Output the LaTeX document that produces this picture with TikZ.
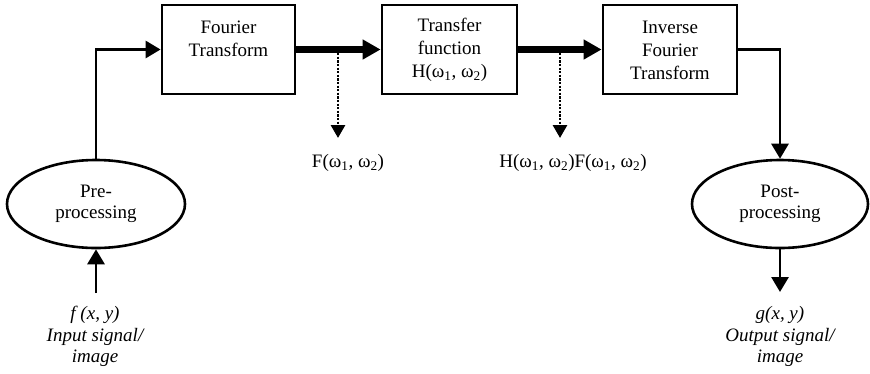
\documentclass[tikz,border=0pt]{standalone}
\usepackage{fontspec}
\setmainfont{Liberation Serif}
\usetikzlibrary{arrows.meta,shapes.geometric}
\begin{document}
\begin{tikzpicture}[x=1pt,y=-1pt,
  boxnode/.style={draw,line width=2.8pt,minimum height=89pt,inner sep=0pt},
  ellnode/.style={draw,ellipse,line width=2.6pt,minimum height=88pt,inner sep=0pt,
     align=center,font=\fontsize{19}{21.5}\selectfont},
  txt/.style={align=center,inner sep=0pt,font=\fontsize{19}{23}\selectfont},
  itxt/.style={align=center,inner sep=0pt,font=\fontsize{19}{21.5}\selectfont\itshape},
  thin/.style={line width=2.8pt,-{Triangle[length=15pt,width=17pt]}},
  thick/.style={line width=7pt,-{Triangle[length=18pt,width=19pt]}},
  dots/.style={line width=2.8pt,dash pattern=on 2.2pt off 1.4pt,-{Triangle[length=13pt,width=14pt]}}
]
\path[use as bounding box] (0,0) rectangle (870,373);

% boxes
\node[boxnode,minimum width=133pt] (ft) at (228.5,49.5) {};
\node[boxnode,minimum width=135pt] (tf) at (449.5,49.5) {};
\node[boxnode,minimum width=134pt] (ift) at (670,49.5) {};
\node[txt] (ftt) at (228.5,38.5) {Fourier\\Transform};
\node[txt] (tft) at (449.5,50) {Transfer\\function\\H(ω\textsubscript{1}, ω\textsubscript{2})};
\node[txt] (iftt) at (670,50) {Inverse\\Fourier\\Transform};

% ellipses
\node[ellnode,minimum width=178pt] (pre) at (96,204) {Pre-\\processing};
\node[ellnode,minimum width=176pt] (post) at (780,204) {Post-\\processing};

% input / output
\coordinate (in) at (96,293);
\coordinate (out) at (780,292);
\node[itxt] (intxt) at (95,336.5) {f (x, y)\\Input signal/\\image};
\node[itxt] (outtxt) at (780,336.5) {g(x, y)\\Output signal/\\image};

% dotted taps
\coordinate (d1) at (338,49.5);
\coordinate (e1) at (338,138);
\coordinate (d2) at (560,49.5);
\coordinate (e2) at (560,138);
\node[txt] (fl) at (348,163) {F(ω\textsubscript{1}, ω\textsubscript{2})};
\node[txt] (hfl) at (573,163) {H(ω\textsubscript{1}, ω\textsubscript{2})F(ω\textsubscript{1}, ω\textsubscript{2})};

% connectors
\draw[thin] (in) -- (pre.south);
\draw[thin] (pre.north) |- (ft.west);
\draw[thick] (ft.east) -- (tf.west);
\draw[thick] (tf.east) -- (ift.west);
\draw[thin] (ift.east) -| (post.north);
\draw[thin] (post.south) -- (out);
\draw[dots] (d1) -- (e1);
\draw[dots] (d2) -- (e2);
\end{tikzpicture}
\end{document}
